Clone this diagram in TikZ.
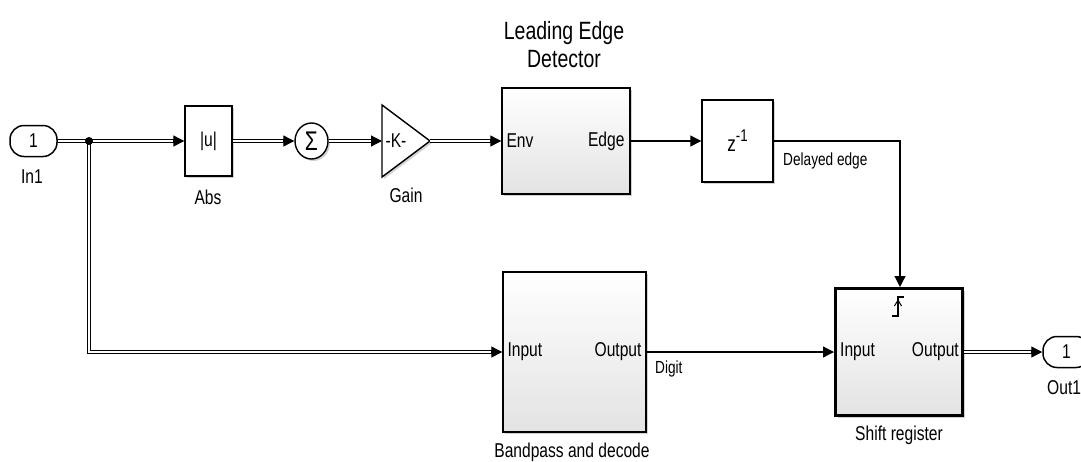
\documentclass[tikz,border=0pt]{standalone}
\usepackage{fontspec}
\setmainfont[FakeStretch=0.78]{Liberation Sans}
\usetikzlibrary{arrows.meta,shadows,shapes.geometric,calc}
\newcommand\lblfont{\fontsize{20}{22}\selectfont}
\newcommand\smlfont{\fontsize{17.5}{19}\selectfont}
\newcommand\ttlfont{\fontsize{25}{28}\selectfont}
\tikzset{
  shd/.style={drop shadow={shadow xshift=2pt,shadow yshift=-2pt,opacity=0.18,fill=black}},
  blk/.style={draw, line width=1.4pt, fill=white, shd, inner sep=0pt},
  sub/.style={blk, top color=white, bottom color=gray!22},
  wire/.style={line width=1.2pt},
  tipar/.style={line width=1.2pt, -{Triangle[length=11pt,width=11pt]}},
  bus/.style={line width=1.4pt, double=white, double distance=1.6pt},
  lbl/.style={font=\lblfont, inner sep=0pt},
  port/.style={font=\lblfont, inner sep=0pt},
  sml/.style={font=\smlfont, inner sep=0pt},
}
\begin{document}
\begin{tikzpicture}[x=1pt,y=-1pt]
\useasboundingbox (0,0) rectangle (1081,461);

% In1
\node[draw, line width=1.5pt, rounded corners=14pt, minimum width=47pt, minimum height=31pt, inner sep=0pt, font=\lblfont] (in1) at (33.5,141) {1};
\node[lbl] (in1l) at (32,177) {In1};

% Abs
\node[blk, minimum width=47pt, minimum height=70pt, font=\lblfont] (abs) at (208.5,141) {|u|};
\node[lbl] (absl) at (208,197) {Abs};

% Sum
\node[blk, ellipse, minimum width=33pt, minimum height=36pt, font=\fontsize{27}{28}\selectfont] (sum) at (311.5,141) {Σ};

% Gain
\coordinate (gin) at (382,141);
\coordinate (gout) at (430,141);
\draw[blk] (382,105) -- (382,177) -- (gout) -- cycle;
\node[port] (gk) at (396,141) {-K-};
\node[lbl] (gainl) at (406,195) {Gain};

% Leading edge detector
\node[sub, minimum width=128pt, minimum height=106pt] (led) at (566,141) {};
\node[port, anchor=west] (env) at ([xshift=5pt]led.west) {Env};
\node[port, anchor=east] (edge) at ([xshift=-6pt]led.east) {Edge};
\node[font=\ttlfont, align=center, inner sep=0pt] (ledl) at (564,45) {Leading Edge\\Detector};

% z^-1
\node[blk, minimum width=71pt, minimum height=82pt, font=\fontsize{22}{24}\selectfont] (zd) at (737.5,141) {z\raisebox{10pt}{\fontsize{17}{18}\selectfont -1}};

% Bandpass
\node[sub, minimum width=143pt, minimum height=160pt] (bp) at (574.5,352) {};
\node[port, anchor=west] (bpin) at ([xshift=5pt]bp.west) {Input};
\node[port, anchor=east] (bpout) at ([xshift=-5pt]bp.east) {Output};
\node[lbl] (bpl) at (572,452) {Bandpass and decode};

% Shift register
\node[sub, line width=3pt, minimum width=127pt, minimum height=127pt] (sr) at (899,352) {};
\node[port, anchor=west] (srin) at ([xshift=6pt]sr.west) {Input};
\node[port, anchor=east] (srout) at ([xshift=-5pt]sr.east) {Output};
\node[lbl] (srl) at (899,435) {Shift register};
\draw[line width=1.1pt] (892,316) -- (898,316) -- (898,297) -- (904,297);
\draw[line width=1pt] (894.5,306) -- (898,300) -- (901.5,306);

% Out1
\node[draw, line width=1.5pt, rounded corners=14pt, minimum width=47pt, minimum height=31pt, inner sep=0pt, font=\lblfont] (out1) at (1066.5,352) {1};
\node[lbl, anchor=west] (out1l) at (1047,388) {Out1};

% connectors
\coordinate (br) at (89,141);
\coordinate (brd) at (89,352);
\draw[bus, shorten >=10pt] (in1.east) -- (abs.west);
\draw[tipar] ([xshift=-11pt]abs.west) -- (abs.west);
\draw[bus, shorten >=10pt] (br) -- (brd) -- (bp.west);
\draw[tipar] ([xshift=-11pt]bp.west) -- (bp.west);
\fill (br) circle (4pt);
\draw[bus, shorten >=10pt] (abs.east) -- (sum.west);
\draw[tipar] ([xshift=-11pt]sum.west) -- (sum.west);
\draw[bus, shorten >=10pt] (sum.east) -- (gin);
\draw[tipar] ([xshift=-11pt]gin) -- (gin);
\draw[bus, shorten >=10pt] (gout) -- (led.west);
\draw[tipar] ([xshift=-11pt]led.west) -- (led.west);
\draw[tipar] (led.east) -- (zd.west);
\coordinate (dcorner) at (900,141);
\draw[tipar] (zd.east) -- (dcorner) -- (sr.north -| dcorner);
\node[sml, anchor=west] (dl) at (783,161) {Delayed edge};
\draw[tipar] (bp.east) -- (sr.west);
\node[sml, anchor=west] (dg) at (655,369) {Digit};
\draw[bus, shorten >=10pt] (sr.east) -- (out1.west);
\draw[tipar] ([xshift=-11pt]out1.west) -- (out1.west);
\end{tikzpicture}
\end{document}
